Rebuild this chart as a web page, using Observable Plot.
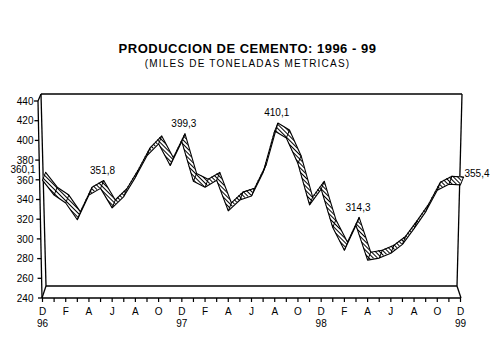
<!DOCTYPE html>
<html><head><meta charset="utf-8">
<script src="https://cdn.jsdelivr.net/npm/d3@7"></script>
<script src="https://cdn.jsdelivr.net/npm/@observablehq/plot@0.6"></script>
<style>
body{margin:0;background:#fff;width:495px;height:355px;overflow:hidden;position:relative;font-family:"Liberation Sans",Arial,sans-serif;color:#000;}
#chart{position:absolute;left:0;top:0;}
#title{position:absolute;left:0;width:495px;top:42px;line-height:13px;text-align:center;font-weight:bold;font-size:13px;letter-spacing:0.5px;}
#subtitle{position:absolute;left:0;width:495px;top:59px;line-height:10px;text-align:center;font-size:10px;letter-spacing:1.2px;}
</style></head><body>
<div id="chart"></div>
<div id="title">PRODUCCION DE CEMENTO: 1996 - 99</div>
<div id="subtitle">(MILES DE TONELADAS METRICAS)</div>
<script>
// Monthly cement production, Dec 1996 .. Dec 1999 (thousand metric tons)
const monthLetters = ["D","E","F","M","A","M","J","J","A","S","O","N",
                      "D","E","F","M","A","M","J","J","A","S","O","N",
                      "D","E","F","M","A","M","J","J","A","S","O","N","D"];
const yearLabels = ["96","97","98","99"];
const yearIndex = [0, 12, 24, 36];
const values = [360.1, 345, 337, 320, 345, 351.8, 332, 343.5, 363, 385, 397, 375,
                 399.3, 359, 353, 360, 329, 340, 344, 368, 410.1, 403, 377, 335,
                 351, 312, 289, 314.3, 279, 281, 286, 295, 311, 328, 350, 356, 355.4];
const labeledIndex = [5, 12, 20, 27];
const firstIndex = 0;
const lastIndex = 36;
const yTicks = [240, 260, 280, 300, 320, 340, 360, 380, 400, 420, 440];

const data = values.map((v, i) => ({i, v}));
const fmt = v => String(v).replace(".", ",");
const DX = 0.27, DY = 8; // ribbon depth in data units

function frame3d(index, {x, y}) {
  const ns = "http://www.w3.org/2000/svg";
  const g = document.createElementNS(ns, "g");
  const x0 = x(0), x1 = x(36), yb = y(240), yt = y(440);
  const segs = [
    [x0, yb, x0 - 4, yt],
    [x0 - 4, yt, x0 - 1, yt - 7],
    [x0 - 1, yt - 7, x0 + 4, yb - 12],
    [x0 - 1, yt - 7, x1 + 2, yt - 7],
    [x1 + 2, yt - 7, x1 - 3, yb - 12],
    [x0 + 4, yb - 12, x1 - 3, yb - 12],
    [x0, yb, x0 + 4, yb - 12],
    [x0, yb, x1 + 1, yb],
    [x1 + 1, yb, x1 - 3, yb - 12]
  ];
  for (const t of yTicks) {
    const ax = x0 - 4 * (t - 240) / 200;
    segs.push([ax - 4, y(t), ax, y(t)]);
  }
  for (const [a, b, c, d] of segs) {
    const l = document.createElementNS(ns, "line");
    l.setAttribute("x1", a); l.setAttribute("y1", b);
    l.setAttribute("x2", c); l.setAttribute("y2", d);
    l.setAttribute("stroke", "black"); l.setAttribute("stroke-width", 1.3);
    g.appendChild(l);
  }
  return g;
}

const chart = Plot.plot({
  width: 495, height: 355,
  marginLeft: 42, marginRight: 35, marginTop: 101, marginBottom: 57,
  x: {domain: [0, 36]},
  y: {domain: [240, 440]},
  style: {fontFamily: "Liberation Sans, Arial, sans-serif", fontSize: "10px", background: "white", color: "black"},
  marks: [
    frame3d,
    Plot.axisY({ticks: yTicks, tickSize: 0, tickPadding: 9, label: null, tickFormat: d => d}),
    Plot.axisX({ticks: d3.range(0, 37), tickSize: 4, tickFormat: () => "", label: null, strokeWidth: 1.2}),
    Plot.axisX({ticks: d3.range(0, 37, 2), tickSize: 0, tickPadding: 9, tickFormat: i => monthLetters[i], label: null}),
    Plot.axisX({ticks: yearIndex, tickSize: 0, tickPadding: 21, tickFormat: i => yearLabels[yearIndex.indexOf(i)], label: null}),
    Plot.area(data, {x1: "i", y1: "v", x2: d => d.i + DX, y2: d => d.v + DY, fill: "url(#hatch)", curve: "linear"}),
    Plot.link(data, {x1: "i", y1: "v", x2: d => d.i + DX, y2: d => d.v + DY, stroke: "black", strokeWidth: 1}),
    Plot.line(data, {x: "i", y: "v", stroke: "black", strokeWidth: 1.1}),
    Plot.line(data, {x: d => d.i + DX, y: d => d.v + DY, stroke: "black", strokeWidth: 1.1}),
    Plot.text(labeledIndex, {x: i => i, y: i => values[i], text: i => fmt(values[i]), dy: -18, dx: 2}),
    Plot.text([firstIndex], {x: i => i, y: i => values[i], text: i => fmt(values[i]), dy: -10, dx: -7, textAnchor: "end"}),
    Plot.text([lastIndex], {x: i => i, y: i => values[i], text: i => fmt(values[i]), dy: -11, dx: 4, textAnchor: "start"})
  ]
});
const ns = "http://www.w3.org/2000/svg";
const defs = document.createElementNS(ns, "defs");
defs.innerHTML = '<pattern id="hatch" width="3" height="3" patternUnits="userSpaceOnUse" patternTransform="rotate(-45)"><rect width="3" height="3" fill="white"/><line x1="0.5" y1="0" x2="0.5" y2="3" stroke="black" stroke-width="1"/></pattern>';
chart.insertBefore(defs, chart.firstChild);
document.getElementById("chart").appendChild(chart);
</script>
</body></html>
